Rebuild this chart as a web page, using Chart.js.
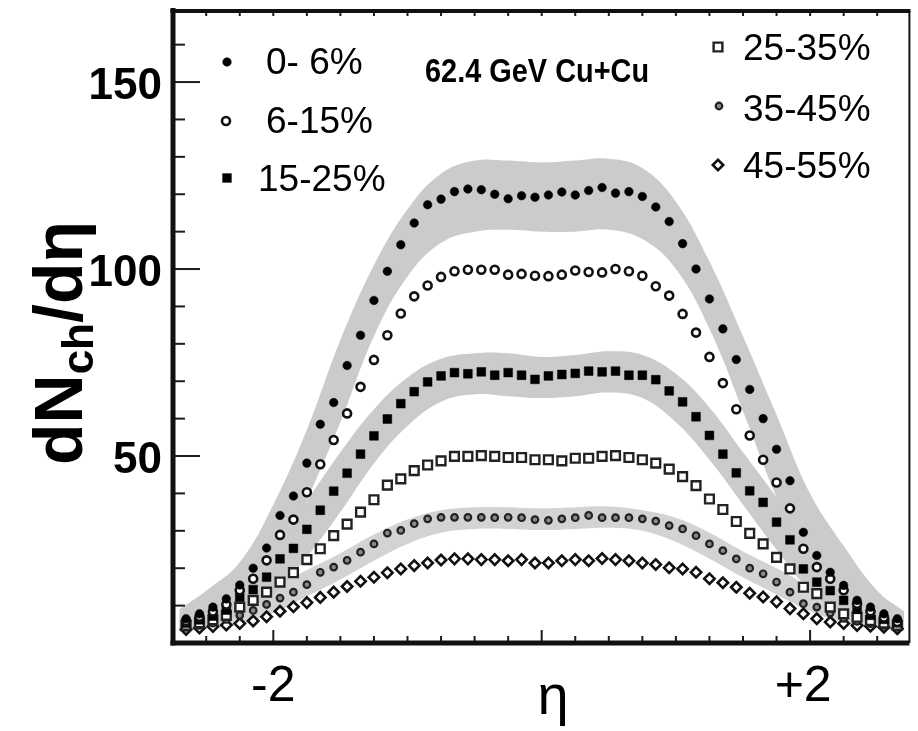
<!DOCTYPE html>
<html><head><meta charset="utf-8">
<script src="https://cdn.jsdelivr.net/npm/chart.js@4.4.1/dist/chart.umd.min.js"></script>
<style>html,body{margin:0;padding:0;background:#fff;}#wrap{width:918px;height:731px;}canvas{display:block;}</style>
</head><body><div id="wrap"><canvas id="c" width="918" height="731"></canvas></div>
<script>
// ---- data ----
const eta = [-2.65,-2.55,-2.45,-2.35,-2.25,-2.15,-2.05,-1.95,-1.85,-1.75,-1.65,-1.55,-1.45,-1.35,-1.25,-1.15,-1.05,-0.95,-0.85,-0.75,-0.65,-0.55,-0.45,-0.35,-0.25,-0.15,-0.05,0.05,0.15,0.25,0.35,0.45,0.55,0.65,0.75,0.85,0.95,1.05,1.15,1.25,1.35,1.45,1.55,1.65,1.75,1.85,1.95,2.05,2.15,2.25,2.35,2.45,2.55,2.65];
const c0_6   = [6.5,7.8,9.6,11.8,15.5,20.0,25.4,34.1,39.3,48.1,58.5,64.3,74.2,82.3,91.6,99.4,106.5,112.3,117.2,118.7,120.7,121.4,121.2,120.0,118.8,119.6,119.2,119.8,120.6,119.8,121.0,121.8,120.3,120.7,119.4,116.6,112.7,106.8,100.0,92.0,84.0,75.8,67.8,60.0,51.8,43.4,29.6,23.4,18.9,15.4,11.4,9.6,7.8,6.5];
const c6_15  = [5.9,7.0,8.4,10.3,14.1,17.2,22.1,28.9,33.0,40.3,47.8,54.3,61.4,68.5,75.7,82.3,88.1,92.7,95.6,97.9,99.4,99.8,99.8,99.8,98.5,98.7,98.2,98.1,98.5,99.6,99.2,99.1,100.0,99.4,98.2,95.4,92.9,88.0,83.0,76.5,69.5,62.5,55.5,49.0,42.9,36.0,25.2,20.3,17.2,14.1,10.5,8.5,6.8,5.6];
const c15_25 = [5.3,6.2,7.2,8.8,12.3,14.3,17.6,22.5,25.3,30.4,35.5,40.6,45.4,50.5,55.4,59.9,64.0,67.2,69.8,71.4,72.3,72.0,72.5,71.6,72.3,71.6,70.5,71.4,71.8,72.1,72.7,72.5,72.7,71.6,71.6,70.4,67.4,64.5,60.5,55.5,50.5,45.5,40.7,37.6,32.3,27.6,19.8,16.3,14.0,11.4,9.0,7.4,6.3,5.4];
const c25_35 = [4.7,5.4,6.2,7.4,9.6,11.4,13.6,16.3,18.8,22.3,25.2,28.7,31.8,35.0,38.3,42.2,43.9,46.1,47.6,48.7,49.9,49.9,50.1,49.9,49.6,49.6,49.0,49.0,48.7,49.4,49.4,49.9,50.1,49.6,49.0,48.1,46.5,44.5,42.1,38.5,35.7,32.5,29.3,26.5,22.9,19.8,14.9,13.2,9.6,7.8,6.9,6.0,5.3,4.7];
const c35_45 = [4.2,4.7,5.3,6.3,7.4,8.7,10.3,12.0,13.6,15.6,18.9,20.3,22.1,24.3,26.5,29.4,30.1,31.9,33.2,33.6,33.6,33.6,33.6,33.5,33.6,33.5,33.0,32.8,33.2,33.5,34.1,33.5,33.5,33.5,33.2,32.6,31.4,30.5,28.7,26.5,24.7,22.5,20.0,18.5,16.3,13.6,10.5,9.6,8.0,6.6,5.8,5.2,4.7,4.2];
const c45_55 = [3.6,4.0,4.4,4.8,5.2,5.9,7.0,8.5,9.7,10.8,12.2,13.6,15.1,16.5,17.6,18.8,19.8,20.7,21.4,22.2,22.5,22.5,22.3,22.3,22.0,22.3,21.4,21.4,22.0,22.3,22.0,22.6,22.3,22.0,21.4,21.0,20.1,19.8,18.9,17.2,16.1,14.9,13.3,12.3,11.0,9.2,7.8,6.5,5.6,5.2,4.7,4.5,4.2,3.8];

// systematic error bands
const bandEta   = [-2.7,-2.5,-2.25,-2.0,-1.75,-1.5,-1.25,-1.0,-0.75,-0.5,-0.25,0,0.25,0.5,0.75,1.0,1.25,1.5,1.75,2.0,2.25,2.5,2.7];
const b0_6Hi    = [9,14,21.6,37,57,81,101,116,125.5,129,129,128.5,129,129.5,127,118,102,82,61,40,26,14,8.5];
const b0_6Lo    = [3,5,9,18,38,59,82,98,107,110,110.5,110,110,110.5,108,100,84,62,39,20,10,5.5,3.5];
const b15_25Hi  = [7.5,10,15,25,38,51,62.5,71,76,77.5,77.5,76.5,77,78,77,72,63,51,39,26,16,10.5,8];
const b15_25Lo  = [3,4.5,7.5,13,23,35,48,58,64.5,66.5,66,65.5,66,67,65.5,59,49,37,25,14,8,5,3.5];
const b35_45Hi  = [6,7.5,10.5,15,19.5,24,29,33,35.5,36.3,36.3,36,36.3,36.5,35.5,33.5,29.5,24.5,20,15,10.5,7.5,6];
const b35_45Lo  = [3,3.8,5,8,12.5,17,22,26.5,29.5,30.5,30.5,30.2,30.5,30.8,30,27,22.5,17.5,13,8.5,5.5,4,3.2];

const seriesLabels = ['0- 6%','6-15%','15-25%','25-35%','35-45%','45-55%'];
const xTickValues = [-2, 2];
const xTickLabels = ['-2', '+2 '];
const yTickValues = [50, 100, 150];
const yTickLabels = ['50', '100', '150'];
const annotation = '62.4 GeV Cu+Cu';

// ---- styles ----
const FONT = '"Liberation Sans", Arial, Helvetica, sans-serif';
const styles = [
  {pointStyle:'circle',  radius:4.3, backgroundColor:'#000', borderColor:'#000', borderWidth:0.5},
  {pointStyle:'circle',  radius:4.0, backgroundColor:'#fff', borderColor:'#111', borderWidth:2.6},
  {pointStyle:'rect',    radius:6.2, backgroundColor:'#000', borderColor:'#000', borderWidth:0.5},
  {pointStyle:'rect',    radius:6.2, backgroundColor:'#fff', borderColor:'#222', borderWidth:2.4},
  {pointStyle:'circle',  radius:3.3, backgroundColor:'#8a8a8a', borderColor:'#222', borderWidth:2.2},
  {pointStyle:'rectRot', radius:5.2, backgroundColor:'#fff', borderColor:'#111', borderWidth:2.6}
];
const seriesData = [c0_6, c6_15, c15_25, c25_35, c35_45, c45_55];

function pts(xs, ys){ return xs.map((v,i)=>({x:v, y:ys[i]})); }

const datasets = seriesData.map((d,i)=>({
  type:'scatter', label: seriesLabels[i], data: pts(eta, d), showLine:false,
  pointStyle: styles[i].pointStyle, pointRadius: styles[i].radius, pointHoverRadius: styles[i].radius,
  pointBackgroundColor: styles[i].backgroundColor, pointBorderColor: styles[i].borderColor,
  pointBorderWidth: styles[i].borderWidth
}));
function bandPair(hi, lo, color){
  return [
    {type:'line', label:'_band', data: pts(bandEta, hi), fill:'+1', backgroundColor: color,
     borderColor:'rgba(0,0,0,0)', borderWidth:0, pointRadius:0, tension:0.4},
    {type:'line', label:'_band', data: pts(bandEta, lo), fill:false,
     borderColor:'rgba(0,0,0,0)', borderWidth:0, pointRadius:0, tension:0.4}
  ];
}
datasets.push(...bandPair(b0_6Hi, b0_6Lo, '#cbcbcb'));
datasets.push(...bandPair(b15_25Hi, b15_25Lo, '#cbcbcb'));
datasets.push(...bandPair(b35_45Hi, b35_45Lo, '#d3d3d3'));

function drawMarker(ctx, st, x, y){
  ctx.save();
  ctx.fillStyle = st.backgroundColor; ctx.strokeStyle = st.borderColor; ctx.lineWidth = st.borderWidth;
  if (Chart.helpers && Chart.helpers.drawPoint) {
    Chart.helpers.drawPoint(ctx, {pointStyle: st.pointStyle, radius: st.radius, rotation: 0, borderWidth: st.borderWidth}, x, y);
  } else {
    ctx.beginPath(); ctx.arc(x, y, st.radius, 0, Math.PI*2); ctx.fill(); ctx.stroke();
  }
  ctx.restore();
}

const framePlugin = {
  id: 'frame',
  afterDatasetsDraw(chart){
    const {ctx, chartArea:a, scales:{x, y}} = chart;
    ctx.save();
    ctx.strokeStyle = '#1c1c1c';
    ctx.lineWidth = 2;
    // y ticks (inward)
    for (let v = 10; v <= 160; v += 10) {
      const py = y.getPixelForValue(v);
      const len = yTickValues.includes(v) ? 26 : 11;
      ctx.beginPath(); ctx.moveTo(a.left, py); ctx.lineTo(a.left + len, py); ctx.stroke();
    }
    // x ticks (inward, bottom and top)
    for (let i = -10; i <= 10; i++) {
      const v = i * 0.25, px = x.getPixelForValue(v);
      const len = (i % 8 === 0) ? 13 : 7;
      ctx.beginPath(); ctx.moveTo(px, a.bottom); ctx.lineTo(px, a.bottom - len); ctx.stroke();
      ctx.beginPath(); ctx.moveTo(px, a.top); ctx.lineTo(px, a.top + 5); ctx.stroke();
    }
    // frame
    ctx.strokeStyle = '#111';
    ctx.lineWidth = 5;
    ctx.beginPath(); ctx.moveTo(a.left - 1, a.top - 3); ctx.lineTo(a.left - 1, a.bottom + 2.5); ctx.stroke();
    ctx.beginPath(); ctx.moveTo(a.left - 3.5, a.bottom); ctx.lineTo(a.right, a.bottom); ctx.stroke();
    ctx.lineWidth = 4;
    ctx.beginPath(); ctx.moveTo(a.left - 3.5, a.top); ctx.lineTo(a.right + 1, a.top); ctx.stroke();
    ctx.lineWidth = 2;
    ctx.beginPath(); ctx.moveTo(a.right, a.top); ctx.lineTo(a.right, a.bottom); ctx.stroke();

    // legend
    const legPos = [
      {mx:227, my:62,  tx:266, ty:64},
      {mx:226, my:121, tx:266, ty:123},
      {mx:227, my:178, tx:258, ty:181},
      {mx:718, my:47,  tx:743, ty:50},
      {mx:719, my:106, tx:743, ty:111},
      {mx:718, my:165, tx:743, ty:168}
    ];
    ctx.font = '37px ' + FONT;
    ctx.textBaseline = 'middle';
    ctx.textAlign = 'left';
    legPos.forEach((p,i)=>{
      drawMarker(ctx, styles[i], p.mx, p.my);
      ctx.fillStyle = '#000';
      ctx.fillText(seriesLabels[i], p.tx, p.ty);
    });
    // annotation
    ctx.save();
    ctx.fillStyle = '#000';
    ctx.font = 'bold 34px ' + FONT;
    ctx.translate(425, 73);
    ctx.scale(0.85, 1);
    ctx.textBaseline = 'middle';
    ctx.fillText(annotation, 0, 0);
    ctx.restore();

    // x title
    ctx.fillStyle = '#000';
    ctx.font = '56px ' + FONT;
    ctx.textAlign = 'center';
    ctx.textBaseline = 'alphabetic';
    ctx.fillText('η', 553, 714);

    // y title with subscript
    ctx.save();
    ctx.translate(82, 465);
    ctx.rotate(-Math.PI/2);
    ctx.textAlign = 'left';
    ctx.font = 'bold 68px ' + FONT;
    ctx.fillText('dN', 0, 0);
    let w = ctx.measureText('dN').width;
    ctx.font = 'bold 44px ' + FONT;
    ctx.fillText('ch', w, 11);
    w += ctx.measureText('ch').width;
    ctx.font = 'bold 68px ' + FONT;
    ctx.fillText('/dη', w, 0);
    ctx.restore();
    ctx.restore();
  }
};

new Chart(document.getElementById('c'), {
  type: 'scatter',
  data: { datasets },
  options: {
    responsive:false, animation:false, devicePixelRatio:1,
    layout:{ padding:{ top:11, right:2, left:0, bottom:0 } },
    plugins:{ legend:{display:false}, tooltip:{enabled:false}, filler:{drawTime:'beforeDatasetsDraw'} },
    scales:{
      x:{ type:'linear', min:-2.74, max:2.74, position:'bottom',
          grid:{display:false, drawTicks:false}, border:{display:false},
          afterBuildTicks: s => { s.ticks = xTickValues.map(v=>({value:v})); },
          afterFit: s => { s.height = 88; s.paddingLeft = 0; s.paddingRight = 0; s.paddingTop = 0; s.paddingBottom = 0; },
          ticks:{ autoSkip:false, maxRotation:0, padding:14, color:'#000',
                  font:{family:FONT, size:50},
                  callback: v => { const i = xTickValues.indexOf(v); return i >= 0 ? xTickLabels[i] : ''; } } },
      y:{ type:'linear', min:0, max:169,
          grid:{display:false, drawTicks:false}, border:{display:false},
          afterBuildTicks: s => { s.ticks = yTickValues.map(v=>({value:v})); },
          afterFit: s => { s.width = 174; s.paddingTop = 0; s.paddingBottom = 0; s.paddingLeft = 0; s.paddingRight = 0; },
          ticks:{ padding:12, labelOffset:5, color:'#000',
                  font:{family:FONT, size:44, weight:'bold'},
                  callback: v => { const i = yTickValues.indexOf(v); return i >= 0 ? yTickLabels[i] : ''; } } }
    }
  },
  plugins:[framePlugin]
});
</script></body></html>
